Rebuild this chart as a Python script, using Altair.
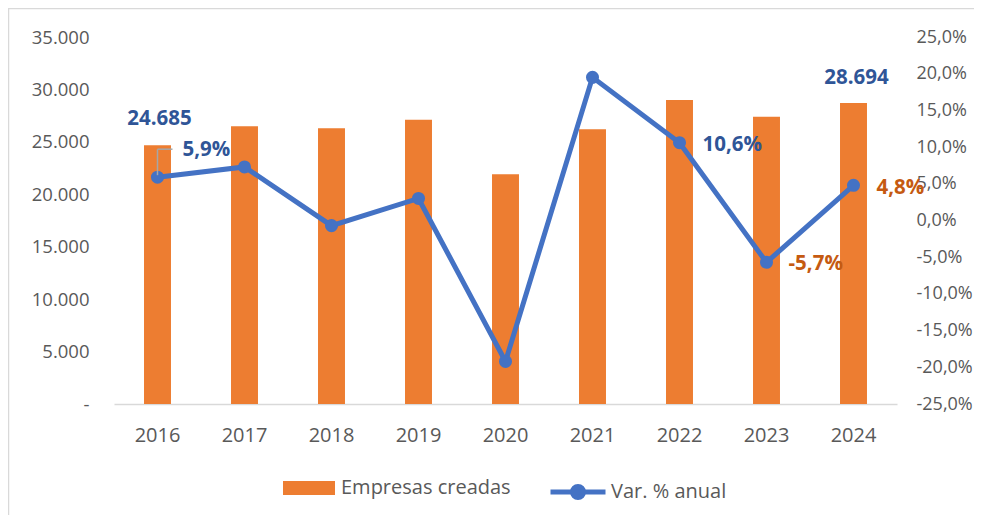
import altair as alt
import pandas as pd

years = ["2016", "2017", "2018", "2019", "2020", "2021", "2022", "2023", "2024"]
empresas = [24685, 26500, 26300, 27100, 21900, 26200, 29000, 27400, 28694]
variacion = [5.9, 7.3, -0.7, 3.0, -19.2, 19.5, 10.6, -5.7, 4.8]
left_ticks = [0, 5000, 10000, 15000, 20000, 25000, 30000, 35000]
right_ticks = [-25, -20, -15, -10, -5, 0, 5, 10, 15, 20, 25]
bar_series = "Empresas creadas"
line_series = "Var. % anual"

df = pd.DataFrame({
    "year": years,
    "empresas": empresas,
    "var": variacion,
    "serie_bar": bar_series,
    "serie_line": line_series,
})
df["lbl_emp"] = [f"{v:,}".replace(",", ".") for v in empresas]
df["lbl_var"] = [(f"{v:.1f}".replace(".", ",") + "%") for v in variacion]

FONT = "Open Sans"
GRAY = "#595959"
ORANGE = "#ED7D31"
BLUE = "#4472C4"
DBLUE = "#2F5597"
DORANGE = "#C55A11"

xscale = alt.Scale(domain=years, paddingInner=0.69, paddingOuter=0.345)
x_axis = alt.X("year:N", scale=xscale, sort=years,
               axis=alt.Axis(title=None, labelAngle=0, labelFontSize=20, labelColor=GRAY,
                             labelFont=FONT, ticks=False, domainColor="#D9D9D9",
                             domainWidth=1.5, labelPadding=21, grid=False))
x_plain = alt.X("year:N", scale=xscale, sort=years)

yl_scale = alt.Scale(domain=[0, 35000], nice=False, zero=True)
yr_scale = alt.Scale(domain=[-25, 25], nice=False, zero=False)

y_left = alt.Y("empresas:Q", scale=yl_scale,
               axis=alt.Axis(orient="left", title=None, values=left_ticks,
                             labelExpr="datum.value == 0 ? '-\u00a0\u00a0' : replace(format(datum.value, ','), ',', '.')",
                             grid=False, domain=False, ticks=False, labelPadding=25,
                             labelOverlap=False, labelFlush=False,
                             labelFontSize=18.5, labelColor=GRAY, labelFont=FONT))
y_left_plain = alt.Y("empresas:Q", scale=yl_scale)

y_right = alt.Y("var:Q", scale=yr_scale,
                axis=alt.Axis(orient="right", title=None, values=right_ticks,
                              tickCount=11,
                              labelExpr="(datum.value < 0 ? '-' : '') + replace(format(abs(datum.value), '.1f'), '.', ',') + '%'",
                              grid=False, domain=False, ticks=False, labelPadding=19,
                              labelOverlap=False, labelFlush=False, labelSeparation=0,
                              labelFontSize=18, labelColor=GRAY, labelFont=FONT))
y_right_plain = alt.Y("var:Q", scale=yr_scale)

base = alt.Chart(df)

border = base.transform_filter("datum.year == '2016'").mark_rect(
    fill="white", fillOpacity=0, stroke="#D9D9D9", strokeWidth=1.5
).encode(x=alt.value(-105.5), x2=alt.value(1200), y=alt.value(-28.5), y2=alt.value(700))

bars = base.mark_bar(opacity=1).encode(
    x=x_axis,
    y=y_left,
    color=alt.Color("serie_bar:N",
                    scale=alt.Scale(domain=[bar_series], range=[ORANGE]),
                    legend=alt.Legend(title=None, orient="none", legendX=169, legendY=425,
                                      symbolType="M-1,-0.27H1V0.27H-1Z", symbolSize=2704,
                                      symbolStrokeWidth=0, labelFontSize=20, labelColor=GRAY,
                                      labelFont=FONT, labelOffset=6, labelLimit=400)),
)

lbl_2016 = base.transform_filter("datum.year == '2016'").mark_text(
    font=FONT, fontSize=20.5, fontWeight="bold", color=DBLUE, baseline="middle",
    align="center", dx=2, dy=-26
).encode(x=x_plain, y=y_left_plain, text="lbl_emp:N")

lbl_2024 = base.transform_filter("datum.year == '2024'").mark_text(
    font=FONT, fontSize=20.5, fontWeight="bold", color=DBLUE, baseline="middle",
    align="center", dx=3, dy=-25
).encode(x=x_plain, y=y_left_plain, text="lbl_emp:N")

bar_layer = alt.layer(border, bars, lbl_2016, lbl_2024)

line = base.mark_line(strokeWidth=5).encode(
    x=x_plain,
    y=y_right,
    stroke=alt.Stroke("serie_line:N",
                      scale=alt.Scale(domain=[line_series], range=[BLUE]),
                      legend=alt.Legend(title=None, orient="none", legendX=434, legendY=425,
                                        symbolType="M-1,0H1M-0.2,0A0.2,0.2,0,1,1,0.2,0A0.2,0.2,0,1,1,-0.2,0Z",
                                        symbolSize=3025, symbolStrokeWidth=5,
                                        symbolFillColor=BLUE, labelFontSize=20,
                                        labelColor=GRAY, labelFont=FONT, labelOffset=3,
                                        labelLimit=400)),
)

points = base.mark_circle(size=170, color=BLUE, opacity=1).encode(x=x_plain, y=y_right_plain)

lead_v = base.transform_filter("datum.year == '2016'").mark_rule(
    color="#A6A6A6", strokeWidth=1.5, yOffset=-2, y2Offset=-28
).encode(x=x_plain, y=y_right_plain, y2="var:Q")

lead_h = base.transform_filter("datum.year == '2016'").mark_rule(
    color="#A6A6A6", strokeWidth=1.5, xOffset=0, x2Offset=15, yOffset=-28, y2Offset=-28
).encode(x=x_plain, x2="year:N", y=y_right_plain)


def pct_label(year, color, dx, dy):
    return base.transform_filter(f"datum.year == '{year}'").mark_text(
        font=FONT, fontSize=20.5, fontWeight="bold", color=color, baseline="middle",
        align="left", dx=dx, dy=dy
    ).encode(x=x_plain, y=y_right_plain, text="lbl_var:N")


line_layer = alt.layer(
    line, points, lead_v, lead_h,
    pct_label("2016", DBLUE, 25, -27),
    pct_label("2022", DBLUE, 23, 2),
    pct_label("2023", DORANGE, 22, 2),
    pct_label("2024", DORANGE, 23, 3),
)

chart = alt.layer(bar_layer, line_layer).resolve_scale(
    y="independent", color="independent", stroke="independent"
).properties(
    width=783, height=367,
    autosize=alt.AutoSizeParams(type="none"),
    padding={"left": 106, "top": 29, "right": 77, "bottom": 111},
    background="white",
).configure_view(stroke=None).configure_axis(labelOverlap=False)

chart.save("out.html", embed_options={"renderer": "svg", "actions": False})
